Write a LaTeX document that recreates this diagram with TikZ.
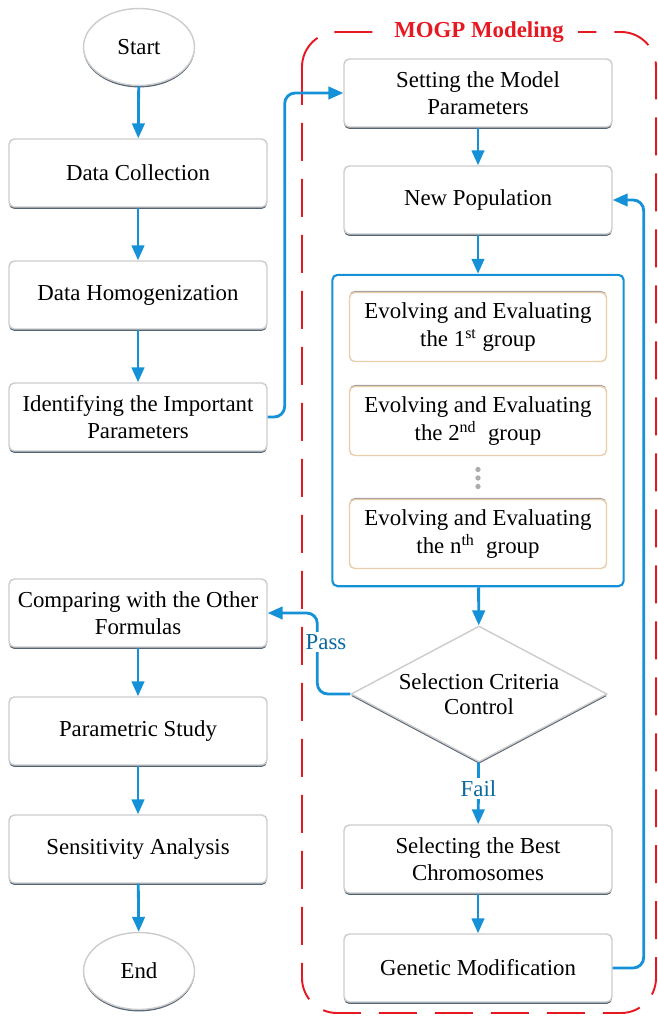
\documentclass[tikz,border=0pt]{standalone}
\usepackage{fontspec}
\setmainfont{Liberation Serif}
\usetikzlibrary{arrows.meta,shapes.geometric,shadows,fit}
\definecolor{flowblue}{RGB}{20,145,215}
\definecolor{labelblue}{RGB}{10,105,160}
\definecolor{framered}{RGB}{230,25,35}
\definecolor{slate}{RGB}{85,100,115}
\definecolor{tanline}{RGB}{235,205,170}
\tikzset{
  stepbox/.style={draw=gray!40, line width=0.8pt, fill=white, rounded corners=3pt,
    minimum width=5.16cm, minimum height=1.36cm, inner sep=2pt, align=center,
    drop shadow={shadow xshift=0pt, shadow yshift=-1.1pt, fill=slate, opacity=1}},
  widebox/.style={stepbox, minimum width=5.36cm},
  groupbox/.style={draw=tanline, line width=0.8pt, fill=white, rounded corners=3pt,
    minimum width=5.14cm, minimum height=1.38cm, inner sep=2pt, align=center,
    general shadow={shadow xshift=0pt, shadow yshift=0.9pt, fill=gray!75, opacity=1}},
  terminal/.style={ellipse, draw=gray!40, line width=0.8pt, fill=white, inner sep=0pt,
    minimum width=2.22cm, minimum height=1.54cm,
    drop shadow={shadow xshift=0pt, shadow yshift=-1.1pt, fill=slate, opacity=1}},
  decision/.style={diamond, draw=gray!40, line width=0.8pt, fill=white, inner sep=0pt,
    aspect=1.95, minimum width=5.12cm, minimum height=2.72cm, align=center,
    font=\fontsize{13}{14.5}\selectfont,
    drop shadow={shadow xshift=0pt, shadow yshift=-1.1pt, fill=slate, opacity=1}},
  flow/.style={draw=flowblue, line width=1.6pt, -{Triangle[length=0.3cm,width=0.25cm]}},
  lbl/.style={text=labelblue, fill=white, inner sep=1.5pt},
  frame/.style={draw=framered, line width=1.1pt, rounded corners=0.7cm,
    dash pattern=on 0.76cm off 0.36cm}
}
\begin{document}
\begin{tikzpicture}[x=0.02cm,y=-0.02cm,every node/.style={font=\fontsize{13}{15.5}\selectfont}]
\useasboundingbox (0,0) rectangle (658,1017);
\draw[frame] (302,32) rectangle (656,1013);
\node[fill=white, inner xsep=0.28cm, inner ysep=1pt, text=framered, font=\fontsize{13}{15.5}\selectfont\bfseries] (mogp) at (479,32) {MOGP Modeling};

\node[terminal] (start) at (139,47) {Start};
\node[stepbox] (dc) at (138,173) {Data Collection};
\node[stepbox] (dh) at (138,295) {Data Homogenization};
\node[stepbox] (ident) at (138,417) {Identifying the Important\\Parameters};
\node[stepbox] (cmp) at (138,613) {Comparing with the Other\\Formulas};
\node[stepbox] (ps) at (138,731) {Parametric Study};
\node[stepbox] (sa) at (138,849) {Sensitivity Analysis};
\node[terminal] (stop) at (139,971) {End};

\node[widebox] (set) at (478,93) {Setting the Model\\Parameters};
\node[widebox] (np) at (478,200) {New Population};
\node[groupbox] (g1) at (478,327) {Evolving and Evaluating\\the 1\textsuperscript{st} group};
\node[groupbox] (g2) at (478,421) {Evolving and Evaluating\\the 2\textsuperscript{nd}\enspace group};
\node[groupbox] (gn) at (478,534) {Evolving and Evaluating\\the n\textsuperscript{th}\enspace group};
\foreach \dy in {-8.5,0,8.5}
  \fill[gray!65] (478,{478+\dy}) circle (1.5pt);
\node[draw=flowblue, line width=1.2pt, rounded corners=3pt, inner xsep=0.33cm, inner ysep=0.34cm, fit=(g1)(gn)] (groups) {};
\node[decision] (sel) at (479,694) {Selection Criteria\\Control};
\node[widebox] (best) at (478,859) {Selecting the Best\\Chromosomes};
\node[widebox] (gm) at (478,968) {Genetic Modification};

\foreach \a/\b in {start/dc,dc/dh,dh/ident,cmp/ps,ps/sa,sa/stop,set/np,np/groups,groups/sel,best/gm}
  \draw[flow] (\a) -- (\b);
\draw[flow] (sel) -- node[lbl, pos=0.42] (fail) {Fail} (best);
\draw[flow, rounded corners=6pt] (ident.east) -- ++(17,0) |- (set.west);
\draw[flow, rounded corners=6pt] (gm.east) -- ++(31,0) |- (np.east);
\draw[flow, rounded corners=6pt] (sel.west) -- ++(-33,0) |- (cmp.east);
\node[lbl] (pass) at (326,642) {Pass};
\end{tikzpicture}
\end{document}
